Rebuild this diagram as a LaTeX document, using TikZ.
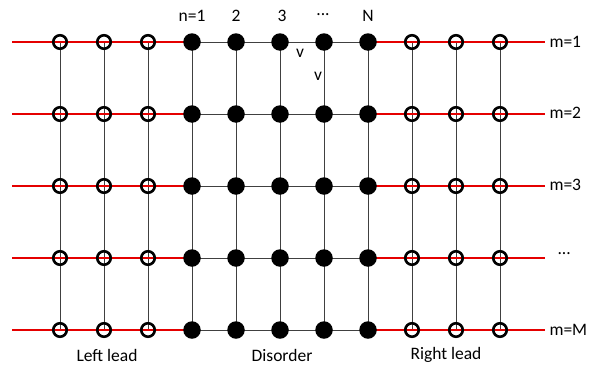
\documentclass[tikz,border=0pt]{standalone}
\usepackage{fontspec}
\setmainfont{Carlito}
\usetikzlibrary{calc}

\tikzset{
  opensite/.style={circle, draw=black, line width=2.6pt, inner sep=0pt, minimum size=13.5pt},
  fullsite/.style={circle, fill=black, inner sep=0pt, minimum size=17.5pt},
  bond/.style={black!75, line width=0.8pt},
  leadbond/.style={red!90!black, line width=1.9pt},
  lbl/.style={font=\fontsize{17.5}{20}\selectfont}
}

\begin{document}
\begin{tikzpicture}[x=1pt, y=-1pt]
        \useasboundingbox (0, 0) rectangle (594, 367);

        % lattice points
        \foreach \j in {1,...,5} {
            \foreach \i in {1,...,11}
                \coordinate (p-\i-\j) at ({60+44*(\i-1)}, {42+72*(\j-1)});
            \coordinate (lend-\j) at (12, {42+72*(\j-1)});
            \coordinate (rend-\j) at (545, {42+72*(\j-1)});
        }

        % vertical bonds
        \foreach \i in {1,...,11}
            \draw[bond] (p-\i-1) -- (p-\i-5);

        % horizontal bonds in the disorder region and the leads
        \foreach \j in {1,...,5} {
            \draw[bond] (p-4-\j) -- (p-8-\j);
            \draw[leadbond] (lend-\j) -- (p-4-\j);
            \draw[leadbond] (p-8-\j) -- (rend-\j);
        }

        % sites
        \foreach \j in {1,...,5} {
            \foreach \i in {1,2,3,9,10,11}
                \node[opensite] (s-\i-\j) at (p-\i-\j) {};
            \foreach \i in {4,...,8}
                \node[fullsite] (s-\i-\j) at (p-\i-\j) {};
        }

        % labels
        \node[lbl] (n1) at (192, 16) {n=1};
        \node[lbl] (n2) at (236, 16) {2};
        \node[lbl] (n3) at (282, 16) {3};
        \node[lbl] (ndots) at (323, 15) {...};
        \node[lbl] (nN) at (368, 16) {N};

        \node[lbl] (v1) at (300, 53) {v};
        \node[lbl] (v2) at (318, 76) {v};

        \node[lbl, anchor=west] (m1) at (546, 42) {m=1};
        \node[lbl, anchor=west] (m2) at (546, 113) {m=2};
        \node[lbl, anchor=west] (m3) at (546, 185) {m=3};
        \node[lbl, anchor=west] (mdots) at (554, 254) {...};
        \node[lbl, anchor=west] (mM) at (546, 330) {m=M};

        \node[lbl] (left) at (107, 355) {Left lead};
        \node[lbl] (dis) at (282, 355) {Disorder};
        \node[lbl] (right) at (446, 355) {Right lead};
    \end{tikzpicture}
\end{document}
